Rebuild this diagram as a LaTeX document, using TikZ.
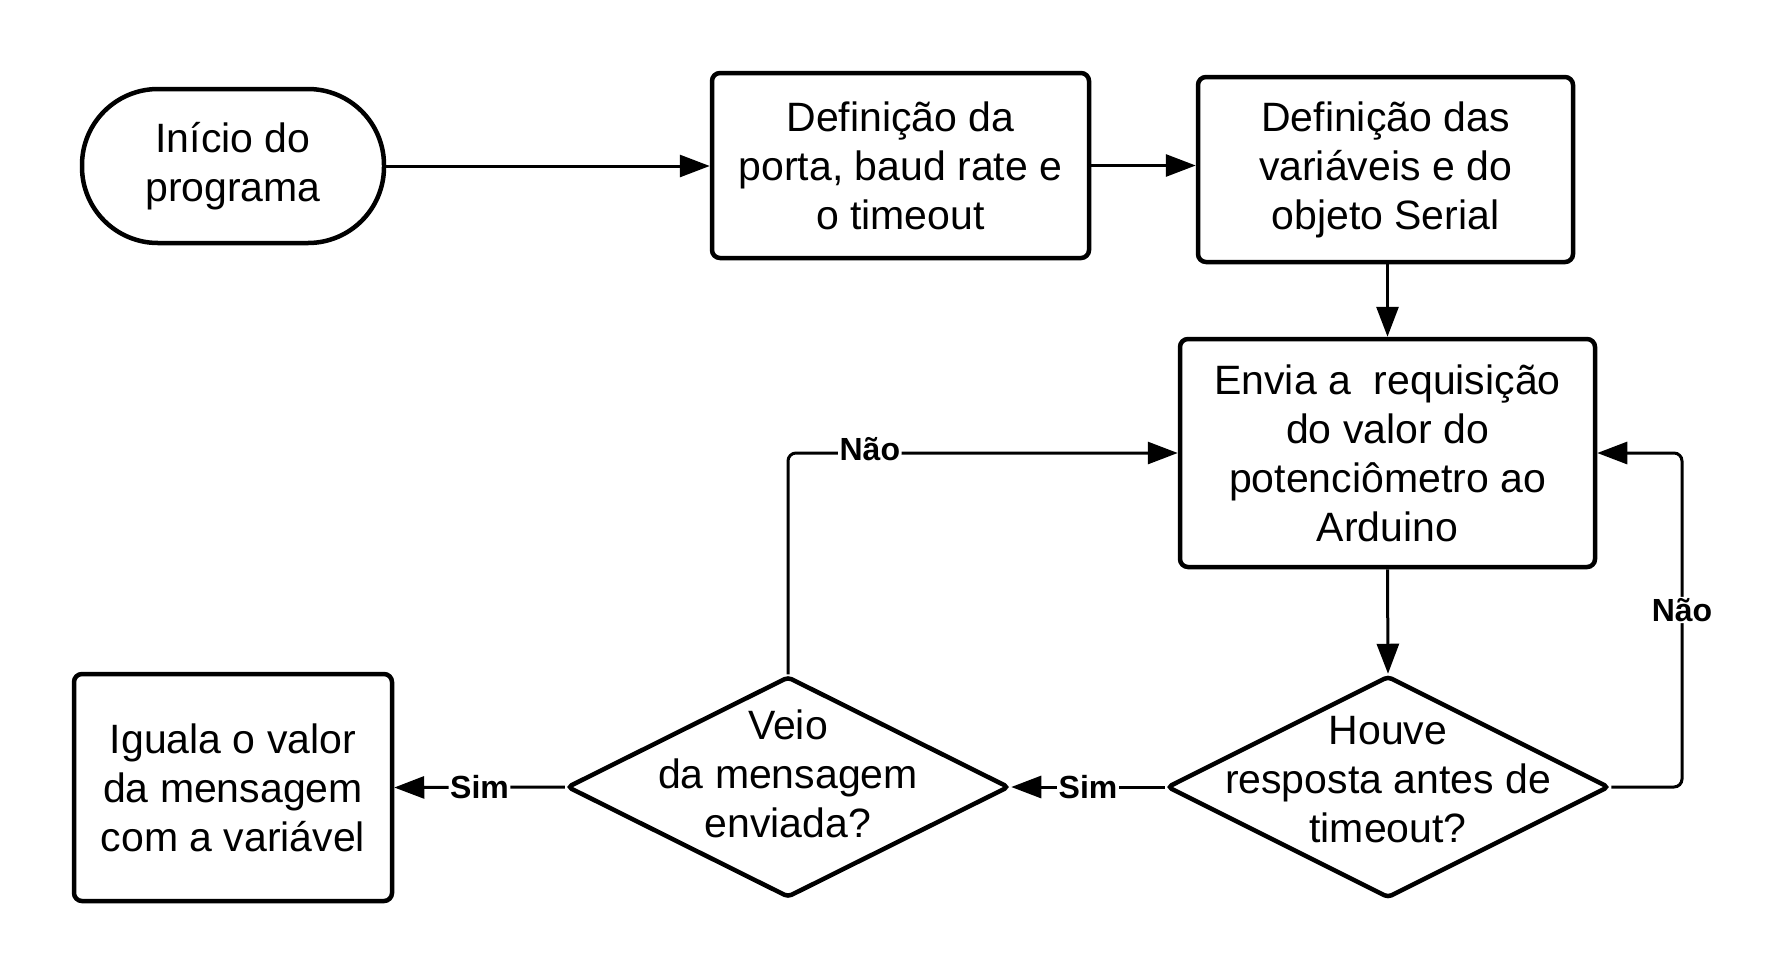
\documentclass[tikz,border=0pt]{standalone}
\usepackage{fontspec}
\setmainfont{Liberation Sans}
\usetikzlibrary{arrows.meta,shapes.geometric}
\begin{document}
\begin{tikzpicture}[x=1pt,y=-1pt,
  boxst/.style={draw,line width=4.5pt,rounded corners=8pt,align=center,font=\fontsize{41}{49}\selectfont,inner sep=0pt},
  termst/.style={boxst,rounded corners=76pt},
  diast/.style={draw,diamond,line width=4.5pt,rounded corners=4pt,inner sep=0pt},
  txtst/.style={align=center,font=\fontsize{41}{49}\selectfont,inner sep=0pt},
  conn/.style={line width=3pt,rounded corners=8pt,-{Triangle[length=30pt,width=22pt]}},
  lbl/.style={fill=white,font=\bfseries\fontsize{32}{38}\selectfont,inner sep=1.5pt}]
\useasboundingbox[fill=white] (0,0) rectangle (1791,975);

\node[termst,minimum width=302pt,minimum height=154pt] (start) at (233,166) {Início do\\programa};
\node[boxst,minimum width=377pt,minimum height=185pt] (def1) at (900.5,165.5) {Definição da\\porta, baud rate e\\o timeout};
\node[boxst,minimum width=375pt,minimum height=185pt] (def2) at (1385.5,169.5) {Definição das\\variáveis e do\\objeto Serial};
\node[boxst,minimum width=415pt,minimum height=228pt] (envia) at (1387.5,453) {Envia a \ requisição\\do valor do\\potenciômetro ao\\Arduino};
\node[diast,minimum width=442pt,minimum height=222pt] (houve) at (1388,787) {};
\node[txtst] (houvetxt) at (1388,780) {Houve\\resposta antes de\\timeout?};
\node[diast,minimum width=442pt,minimum height=221pt] (veio) at (788,787) {};
\node[txtst] (veiotxt) at (788,774) {Veio\\da mensagem\\enviada?};
\node[boxst,minimum width=318pt,minimum height=227pt] (iguala) at (233,787.5) {Iguala o valor\\da mensagem\\com a variável};

\coordinate (rloop) at (1682,787);

\draw[conn] (start.east) -- (start.east -| def1.west);
\draw[conn] (def1.east) -- (def1.east -| def2.west);
\draw[conn] (def2.south -| envia.north) -- (envia.north);
\draw[conn] (envia.south) -- (houve.north);
\draw[conn] (houve.west) -- node[lbl]{Sim} (veio.east);
\draw[conn] (veio.west) -- node[lbl]{Sim} (iguala.east);
\draw[conn] (veio.north) |- node[lbl,pos=0.605,yshift=4pt]{Não} (envia.west);
\draw[conn] (houve.east) -- (rloop) |- node[lbl,pos=0.265]{Não} (envia.east);
\end{tikzpicture}
\end{document}
